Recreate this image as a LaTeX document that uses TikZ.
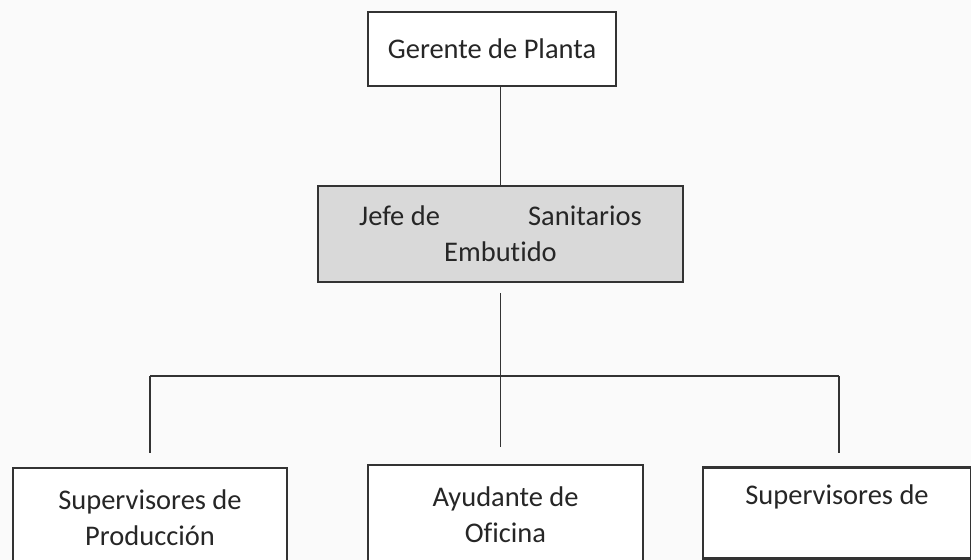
\documentclass[tikz,border=0pt]{standalone}
\usepackage{fontspec}
\setmainfont{Carlito}[Ligatures=NoCommon]
\usepackage{xcolor}
\usetikzlibrary{positioning, calc}

\definecolor{inkgray}{HTML}{333333}
\definecolor{boxgray}{HTML}{D9D9D9}

\begin{document}
\begin{tikzpicture}[x=0.02cm, y=-0.02cm,
  box/.style={rectangle, draw=inkgray, line width=1.2pt, align=center,
              font=\fontsize{16.2}{20.5}\selectfont, text=black!85, fill=white},
  link/.style={draw=inkgray, line width=1.1pt}
]
\path[use as bounding box, clip] (0,0) rectangle (971,560);
\fill[gray!4] (0,0) rectangle (971,560);

\node[box, minimum width=4.96cm, minimum height=1.48cm] (gerente) at (492,49) {Gerente de Planta};
\node[box, fill=boxgray, minimum width=7.3cm, minimum height=1.92cm] (jefe) at (500.5,234)
  {Jefe de\hspace{3.1em}Sanitarios\\Embutido};
\node[box, minimum width=5.48cm, minimum height=2cm] (prod) at (150,518) {Supervisores de\\Producción};
\node[box, minimum width=5.5cm, minimum height=2cm] (ayud) at (505.5,515) {Ayudante de\\Oficina};
\node[box, minimum width=5.36cm, minimum height=1.82cm] (sani) at (837,513) {Supervisores de\\\mbox{}};

\coordinate (busL) at (150,376);
\coordinate (busR) at (839,376);

\draw[link] (gerente.south -| jefe.north) -- (jefe.north);
\draw[link] ([yshift=-0.2cm]jefe.south) -- ([yshift=0.34cm]jefe.south |- ayud.north);
\draw[link] (busL) -- (busR);
\foreach \a/\b in {busL/prod,busR/sani}
  \draw[link] (\a) -- ([yshift=0.27cm]\a |- \b.north);
\end{tikzpicture}
\end{document}
